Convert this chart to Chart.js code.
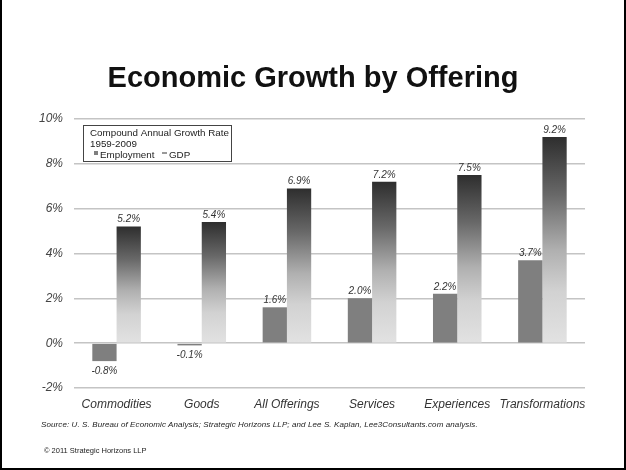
<!DOCTYPE html>
<html>
<head>
<meta charset="utf-8">
<script src="https://cdn.jsdelivr.net/npm/chart.js@4/dist/chart.umd.min.js"></script>
<style>
  html, body { margin: 0; padding: 0; background: #fff; }
  #frame {
    position: relative; width: 626px; height: 470px; box-sizing: border-box;
    border-left: 2px solid #000; border-right: 2px solid #000; border-bottom: 2px solid #000;
    overflow: hidden; font-family: "Liberation Sans", Arial, sans-serif;
  }
  #chart { position: absolute; left: -2px; top: 0; }
  .title {
    position: absolute; left: 0; width: 626px; top: 60px; text-align: center;
    font-weight: bold; font-size: 29px; color: #111; line-height: 34px; margin-left: -2px;
  }
  .source {
    position: absolute; left: 39px; top: 420px; font-size: 8px; font-style: italic; color: #222;
    letter-spacing: 0.1px;
  }
  .copy { position: absolute; left: 42px; top: 446px; font-size: 7.5px; color: #222; }
</style>
</head>
<body>
<div id="frame">
  <canvas id="chart" width="626" height="470"></canvas>
  <div class="title">Economic Growth by Offering</div>
  <div class="source">Source: U. S. Bureau of Economic Analysis; Strategic Horizons LLP; and Lee S. Kaplan, Lee3Consultants.com analysis.</div>
  <div class="copy">&copy; 2011 Strategic Horizons LLP</div>
</div>
<script>
/* data */
const categories = ['Commodities', 'Goods', 'All Offerings', 'Services', 'Experiences', 'Transformations'];
const employment = [-0.8, -0.1, 1.6, 2.0, 2.2, 3.7];
const gdp = [5.2, 5.4, 6.9, 7.2, 7.5, 9.2];
const yTicks = [-2, 0, 2, 4, 6, 8, 10];

const FONT = "'Liberation Sans', Arial, sans-serif";

/* per-bar vertical gradient for the GDP bars */
function gdpFill(ctx) {
  const chart = ctx.chart;
  const y = chart.scales.y;
  if (!y || ctx.raw == null || !chart.chartArea) return '#999';
  const top = y.getPixelForValue(ctx.raw);
  const base = y.getPixelForValue(0);
  if (!isFinite(top) || !isFinite(base) || top === base) return '#999';
  const g = chart.ctx.createLinearGradient(0, top, 0, base);
  g.addColorStop(0, '#2e2e2e');
  g.addColorStop(0.28, '#686868');
  g.addColorStop(0.55, '#b0b0b0');
  g.addColorStop(0.75, '#d2d2d2');
  g.addColorStop(1, '#e2e2e2');
  return g;
}

/* value labels above / below each bar */
const valueLabels = {
  id: 'valueLabels',
  afterDatasetsDraw(chart) {
    const c = chart.ctx;
    c.save();
    c.font = 'italic 10px ' + FONT;
    c.fillStyle = '#333';
    c.textAlign = 'center';
    chart.data.datasets.forEach((ds, di) => {
      chart.getDatasetMeta(di).data.forEach((bar, i) => {
        const v = ds.data[i];
        const txt = v.toFixed(1) + '%';
        if (v >= 0) {
          c.textBaseline = 'bottom';
          c.fillText(txt, bar.x, bar.y - 2);
        } else {
          c.textBaseline = 'top';
          c.fillText(txt, bar.x, bar.y + 5);
        }
      });
    });
    c.restore();
  }
};

/* boxed legend in the top-left of the plot */
const boxLegend = {
  id: 'boxLegend',
  afterDraw(chart) {
    const c = chart.ctx;
    const x = 83, y = 125, w = 148, h = 36;
    c.save();
    c.fillStyle = '#fff';
    c.fillRect(x, y, w, h);
    c.strokeStyle = '#444';
    c.lineWidth = 1;
    c.strokeRect(x + 0.5, y + 0.5, w, h);
    c.fillStyle = '#222';
    c.font = '9.8px ' + FONT;
    c.textBaseline = 'alphabetic';
    c.fillText('Compound Annual Growth Rate', x + 7, y + 11);
    c.fillText('1959-2009', x + 7, y + 22);
    c.fillStyle = '#7f7f7f';
    c.fillRect(x + 11, y + 26, 4, 4);
    c.fillStyle = '#222';
    c.fillText('Employment', x + 17, y + 33);
    c.fillStyle = '#999';
    c.fillRect(x + 79, y + 27, 5, 2);
    c.fillStyle = '#222';
    c.fillText('GDP', x + 86, y + 33);
    c.restore();
  }
};

new Chart(document.getElementById('chart'), {
  type: 'bar',
  data: {
    labels: categories,
    datasets: [
      { label: 'Employment', data: employment, backgroundColor: '#7f7f7f' },
      { label: 'GDP', data: gdp, backgroundColor: gdpFill }
    ]
  },
  options: {
    responsive: false,
    animation: false,
    devicePixelRatio: 1,
    categoryPercentage: 0.57,
    barPercentage: 1,
    layout: { padding: { left: 20, right: 41, top: 119, bottom: 52 } },
    plugins: { legend: { display: false }, tooltip: { enabled: false } },
    scales: {
      x: {
        grid: { display: false, drawTicks: false },
        border: { display: false },
        ticks: {
          color: '#333', padding: 9, maxRotation: 0, minRotation: 0, autoSkip: false,
          font: { size: 12, style: 'italic', family: FONT }
        },
        afterFit(s) { s.height = 30; }
      },
      y: {
        min: -2, max: 10,
        afterBuildTicks(s) { s.ticks = yTicks.map(v => ({ value: v })); },
        grid: { color: '#c4c4c4', lineWidth: 1.5, drawTicks: false },
        border: { display: false },
        ticks: {
          color: '#444', padding: 11,
          font: { size: 12, style: 'italic', family: FONT },
          callback: v => v + '%'
        },
        afterFit(s) { s.width = 54; }
      }
    }
  },
  plugins: [valueLabels, boxLegend]
});
</script>
</body>
</html>
